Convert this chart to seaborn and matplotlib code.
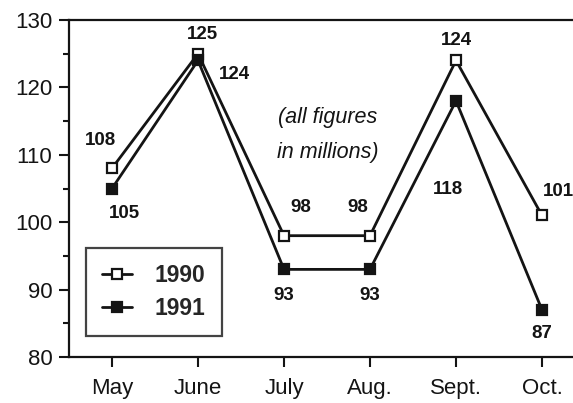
import matplotlib
matplotlib.use("Agg")
import matplotlib.pyplot as plt
from matplotlib.ticker import MultipleLocator
import seaborn as sns
import pandas as pd

months = ["May", "June", "July", "Aug.", "Sept.", "Oct."]
vals_1990 = [108, 125, 98, 98, 124, 101]
vals_1991 = [105, 124, 93, 93, 118, 87]
yticks = [80, 90, 100, 110, 120, 130]

# label offsets in points (dx, dy) for each value label
off_1990 = [(-8, 20), (3, 14), (12, 20), (-9, 20), (0, 14), (12, 17)]
off_1991 = [(9, -18), (26, -10), (0, -19), (0, -19), (-6, -64), (0, -17)]

sns.set_style("ticks")
plt.rcParams["font.family"] = ["Liberation Sans", "DejaVu Sans"]

fig = plt.figure(figsize=(5.73, 4.03), dpi=100)
ax = fig.add_axes([69/573, 1-357/403, (585-69)/573, (357-20)/403])

df90 = pd.DataFrame({"month": months, "value": vals_1990})
df91 = pd.DataFrame({"month": months, "value": vals_1991})
col = "#141414"
sns.lineplot(data=df90, x="month", y="value", ax=ax, color=col, lw=2.0,
             marker="s", markersize=7.5, markerfacecolor="white",
             markeredgecolor=col, markeredgewidth=1.6, sort=False, label="1990")
sns.lineplot(data=df91, x="month", y="value", ax=ax, color=col, lw=2.0,
             marker="s", markersize=7.5, markerfacecolor=col,
             markeredgecolor=col, markeredgewidth=1.6, sort=False, label="1991")

for i, (v, o) in enumerate(zip(vals_1990, off_1990)):
    ax.annotate(str(v), (i, v), xytext=o, textcoords="offset points",
                ha="center", va="center", fontsize=13.5, fontweight="bold", color=col)
for i, (v, o) in enumerate(zip(vals_1991, off_1991)):
    ax.annotate(str(v), (i, v), xytext=o, textcoords="offset points",
                ha="center", va="center", fontsize=13.5, fontweight="bold", color=col)

ax.text(2.51, 112.9, "(all figures\nin millions)", ha="center", va="center",
        fontsize=15.5, style="italic", color=col, linespacing=1.85)

ax.set_xlim(-0.5, 5.5)
ax.set_ylim(80, 130)
ax.set_yticks(yticks)
ax.yaxis.set_minor_locator(MultipleLocator(5))
ax.set_xlabel("")
ax.set_ylabel("")
ax.tick_params(axis="both", labelsize=16, colors=col, width=1.5, length=7)
ax.tick_params(axis="x", length=7, pad=8)
ax.tick_params(axis="y", pad=5)
ax.tick_params(axis="y", which="minor", width=1.5, length=4, colors=col)
for s in ["left", "bottom", "top"]:
    ax.spines[s].set_linewidth(1.6)
    ax.spines[s].set_color(col)
ax.spines["right"].set_visible(False)

leg = ax.legend(loc="lower left", bbox_to_anchor=(0.033, 0.062), fontsize=16.5,
                frameon=True, fancybox=False, edgecolor=col, handlelength=1.3,
                borderpad=0.7, labelspacing=0.45, handletextpad=1.0,
                borderaxespad=0.0)
leg.get_frame().set_linewidth(1.6)
for t in leg.get_texts():
    t.set_fontweight("bold")

fig.savefig("out.png", dpi=100, facecolor="white")
